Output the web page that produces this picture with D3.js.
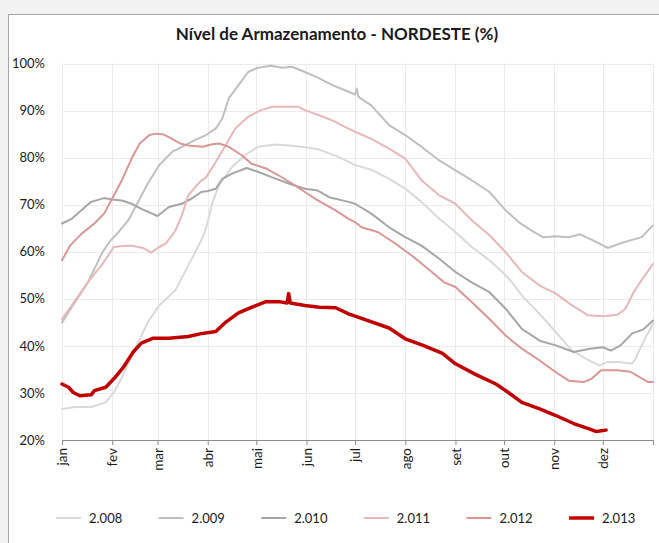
<!DOCTYPE html>
<html><head><meta charset="utf-8">
<script src="https://cdn.jsdelivr.net/npm/d3@7"></script>
<style>
html,body{margin:0;padding:0;background:#f2f2f2;}
svg{display:block;}
text{font-family:Lato,"Liberation Sans",sans-serif;fill:#1a1a1a;}
</style></head>
<body>
<svg id="chart" width="659" height="543"></svg>
<script>
const title = "Nível de Armazenamento - NORDESTE (%)";
const monthLabels = ["jan","fev","mar","abr","mai","jun","jul","ago","set","out","nov","dez"];
const monthStarts = [0,31,59,90,120,151,181,212,243,273,304,334];
const yearEnd = 365;
const yTicks = [20,30,40,50,60,70,80,90,100];
const seriesNames = ["2.008","2.009","2.010","2.011","2.012","2.013"];

const days2008 = [0,8,18,27,32,37,45,53,60,70,78,86,89,93,97,105,113,121,132,142,150,158,171,181,192,202,212,222,233,243,253,264,272,277,284,295,305,315,324,332,336,344,352,354,360,365];
const vals2008 = [26.6,27,27,28,30.1,33.3,39.4,45,48.6,51.8,57.1,62.4,65,70.6,74.1,78,80.5,82.3,82.8,82.5,82.2,81.8,80.1,78.4,77.3,75.5,73.4,70.6,67,64.2,61,58.2,55.7,53.9,50.7,46.8,42.9,39,37.2,35.8,36.5,36.6,36.2,37.2,41.5,44.7];

const days2009 = [0,8,16,25,30,35,41,47,53,60,68,74,82,89,95,99,103,109,115,121,129,136,142,150,158,167,177,181,182,183,184,191,202,212,222,233,243,253,264,274,282,290,297,305,313,320,328,337,346,358,365];
const vals2009 = [45,49.3,53.5,59.9,62.4,64.2,66.7,70.6,74.5,78.4,81.2,82.3,83.7,84.8,86.2,88.3,92.6,95.4,98.2,99.1,99.5,99.1,99.3,98.2,97,95.4,94,93.4,94.7,93,92.7,91.1,86.9,84.8,82.3,79.4,77.3,75.2,72.7,68.8,66.3,64.5,63.1,63.3,63.1,63.7,62.4,60.8,61.9,63.1,65.6];

const days2010 = [0,6,12,18,26,31,37,43,49,59,66,74,80,86,90,95,99,105,114,121,129,140,150,158,165,177,181,191,202,212,222,233,243,253,264,274,284,295,305,316,326,334,339,345,352,359,365];
const vals2010 = [66,67,68.8,70.6,71.4,71.1,70.9,70.2,69.1,67.6,69.5,70.2,71.3,72.7,72.9,73.4,75.5,76.6,77.8,77,75.9,74.5,73.4,73,71.6,70.6,70.2,68.1,65.2,63.1,61.3,58.5,55.7,53.5,51.4,47.9,43.6,41.1,40.1,38.7,39.4,39.7,39,40.1,42.6,43.5,45.4];

const days2011 = [0,8,16,25,32,37,43,50,55,59,64,70,74,78,85,89,95,101,107,115,123,130,138,146,150,158,167,175,181,191,202,212,222,233,243,253,264,274,284,295,305,315,325,334,343,348,353,357,365];
const vals2011 = [45.7,49.6,53.5,57.4,61,61.2,61.3,60.8,59.8,60.8,61.7,64.5,67.7,72,74.8,75.8,79.1,82.6,86.2,88.7,90.1,90.8,90.8,90.8,90.1,89.1,87.9,86.5,85.5,84,81.9,79.8,75.2,72,70.2,66.7,63.5,59.9,55.7,52.8,51.1,48.6,46.5,46.3,46.6,47.9,51.4,53.5,57.4];

const days2012 = [0,5,12,20,26,31,37,43,48,54,58,63,68,73,79,87,92,97,103,111,117,126,134,142,150,158,169,177,181,185,195,206,216,226,236,243,253,264,274,284,295,305,313,322,327,333,343,351,357,362,365];
const vals2012 = [58.2,61.3,63.8,66,68.1,71.3,75.2,79.8,83,84.8,85.1,84.9,84,83,82.5,82.3,82.8,83,82.3,80.5,78.7,77.7,76.2,74.5,72.7,70.9,68.8,67,66.3,65.2,64.2,61.7,59.2,56.4,53.5,52.5,49.3,45.7,42.2,39.4,36.9,34.4,32.6,32.3,33,34.8,34.8,34.5,33.3,32.3,32.3];

const days2013 = [0,4,7,11,18,20,27,32,38,44,49,56,66,78,86,92,95,101,109,117,126,134,139,140,141,150,159,169,177,181,202,212,223,235,243,255,268,274,284,295,305,316,326,330,336];
const vals2013 = [31.9,31.2,30.1,29.4,29.6,30.5,31.2,33,35.5,38.7,40.6,41.6,41.6,42,42.6,42.9,43.05,45,47,48.2,49.4,49.4,49.1,51.1,49.1,48.6,48.2,48.1,46.8,46.3,43.8,41.5,40.1,38.4,36.2,34,31.9,30.5,28,26.6,25.2,23.5,22.3,21.8,22.1];

const seriesColors = ["#d9d9d9","#bfbfbf","#a6a6a6","#e6b9b8","#d99694","#c00000"];
const seriesWidths = [2,2,2,2,2,3.5];

const allDays = [days2008,days2009,days2010,days2011,days2012,days2013];
const allVals = [vals2008,vals2009,vals2010,vals2011,vals2012,vals2013];
const series = seriesNames.map((n,i)=>({name:n, color:seriesColors[i], width:seriesWidths[i],
  pts: allDays[i].map((d,j)=>({d:d, v:allVals[i][j]}))}));

const svg = d3.select("#chart");
// chart frame
svg.append("rect").attr("x",8.5).attr("y",14.5).attr("width",660).attr("height",540)
  .attr("fill","#fff").attr("stroke","#a6a6a6");

const L=62, R=653, T=63.5, B=440;
const x = d3.scaleLinear().domain([0,yearEnd]).range([L,R]);
const y = d3.scaleLinear().domain([20,100]).range([B,T]);

const xTickVals = monthStarts.concat([yearEnd]);
// grid
svg.append("g").selectAll("line").data(yTicks.slice(1)).join("line")
  .attr("x1",L).attr("x2",R).attr("y1",d=>Math.round(y(d))+0.5).attr("y2",d=>Math.round(y(d))+0.5)
  .attr("stroke","#ebebeb").attr("stroke-width",1);
svg.append("g").selectAll("line").data(xTickVals).join("line")
  .attr("x1",d=>Math.round(x(d))+0.5).attr("x2",d=>Math.round(x(d))+0.5).attr("y1",T).attr("y2",B)
  .attr("stroke","#ebebeb").attr("stroke-width",1);

// y axis
const yAxis = svg.append("g").attr("transform",`translate(${L},0)`)
  .call(d3.axisLeft(y).tickValues(yTicks).tickFormat(d=>d+"%").tickSize(0).tickPadding(17));
yAxis.select(".domain").remove();
yAxis.selectAll("text").style("font-size","13px").style("font-family","Lato,'Liberation Sans',sans-serif").attr("fill","#1a1a1a");

// x axis
const xAxis = svg.append("g").attr("transform",`translate(0,${B})`)
  .call(d3.axisBottom(x).tickValues(xTickVals).tickFormat((d,i)=> i<monthLabels.length?monthLabels[i]:"").tickSize(5).tickSizeOuter(0));
xAxis.select(".domain").attr("stroke","#8c8c8c");
xAxis.selectAll(".tick line").attr("stroke","#8c8c8c");
xAxis.selectAll("text").style("font-size","13.5px").style("font-family","Lato,'Liberation Sans',sans-serif").attr("fill","#1a1a1a")
  .attr("transform","rotate(-90)").attr("text-anchor","end").attr("x",-8).attr("y",0).attr("dy","0.35em");

// lines
const line = d3.line().x(p=>x(p.d)).y(p=>y(p.v));
svg.append("g").selectAll("path").data(series).join("path")
  .attr("d",s=>line(s.pts)).attr("fill","none").attr("stroke",s=>s.color)
  .attr("stroke-width",s=>s.width).attr("stroke-linejoin","round").attr("stroke-linecap","round");

// title
svg.append("text").attr("x",337).attr("y",40).attr("text-anchor","middle")
  .style("font-size","17px").style("font-weight","bold").text(title);

// legend
const lg = svg.append("g").selectAll("g").data(series).join("g")
  .attr("transform",(s,i)=>`translate(${56+i*102.6},518)`);
lg.append("line").attr("x1",0).attr("x2",25).attr("y1",0).attr("y2",0)
  .attr("stroke",s=>s.color).attr("stroke-width",s=>s.width);
lg.append("text").attr("x",33).attr("y",0).attr("dy","0.35em").style("font-size","13px").text(s=>s.name);
</script>
</body></html>
